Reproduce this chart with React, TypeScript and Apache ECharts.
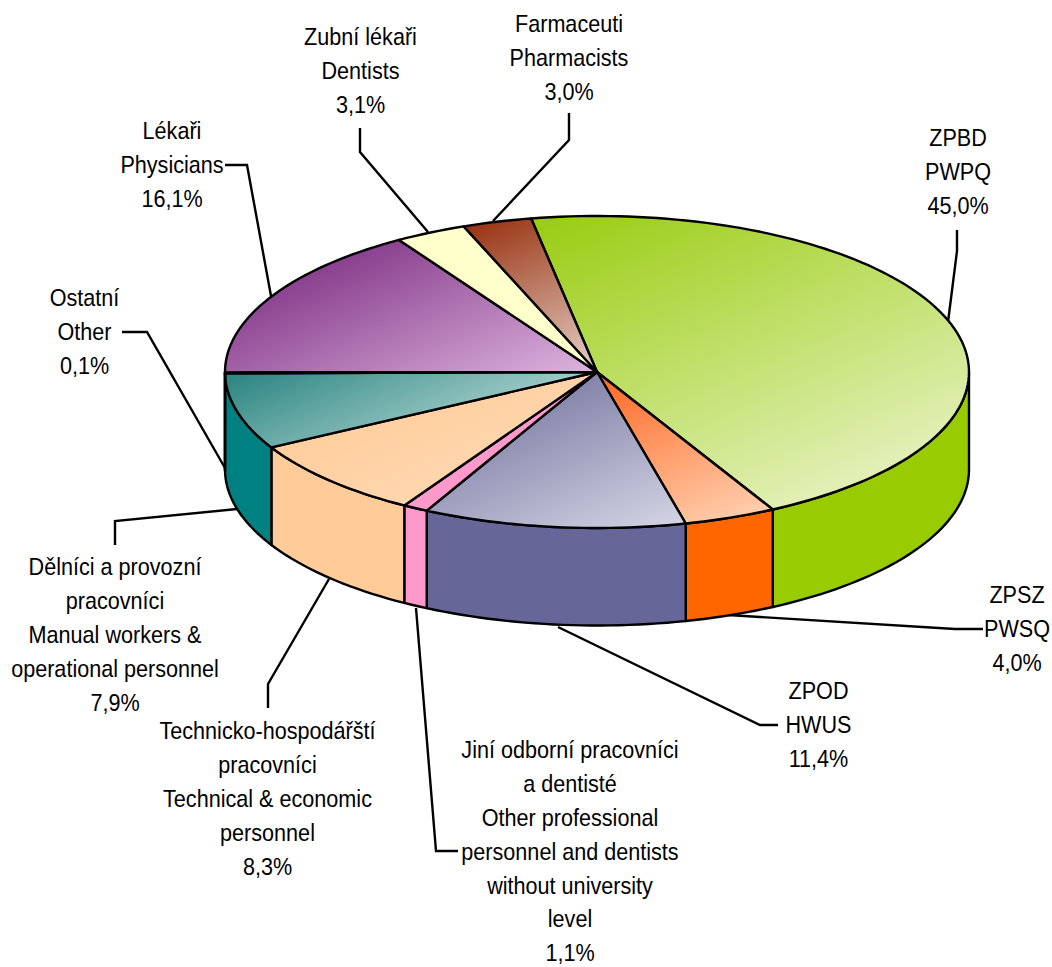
import React, { useEffect, useRef } from "react";
import * as echarts from "echarts";

const names: string[][] = [
  ["ZPBD", "PWPQ"],
  ["ZPSZ", "PWSQ"],
  ["ZPOD", "HWUS"],
  ["Jiní odborní pracovníci", "a dentisté", "Other professional", "personnel and dentists", "without university", "level"],
  ["Technicko-hospodářští", "pracovníci", "Technical & economic", "personnel"],
  ["Dělníci a provozní", "pracovníci", "Manual workers &", "operational personnel"],
  ["Ostatní", "Other"],
  ["Lékaři", "Physicians"],
  ["Zubní lékaři", "Dentists"],
  ["Farmaceuti", "Pharmacists"],
];
const values: number[] = [45.0, 4.0, 11.4, 1.1, 8.3, 7.9, 0.1, 16.1, 3.1, 3.0];

const sideColors = ["#99CC00", "#FF6600", "#666699", "#FF99CC", "#FFCC99", "#008080", "#FFFFFF", "#993399", "#FFFFCC", "#993300"];
const topDark = ["#99CC11", "#FF6622", "#8484AB", "#FF99CC", "#FFCE9D", "#2A8380", "#FFFFFF", "#8A408F", "#FFFFCC", "#993311"];
const topLight = ["#E2F0B8", "#FFD0B0", "#D4D4E4", "#FF99CC", "#FFD6AE", "#A0CCC8", "#FFFFFF", "#DDB4DE", "#FFFFCC", "#E6D2CA"];

// label anchor: centre x, centre y of first line
const labelAnchors: number[][] = [
  [958, 138], [1017, 595], [818.5, 691], [570, 750], [267.5, 731],
  [115, 567], [84.5, 298], [172, 131], [360.5, 37], [569, 24],
];
const leaders: number[][][] = [
  [[957, 230], [957, 251], [948, 322]],
  [[983, 629], [955, 629], [728, 615]],
  [[778, 725], [760, 725], [558, 627]],
  [[458, 851], [436, 851], [416, 608]],
  [[268, 708], [268, 684], [329, 579]],
  [[115, 545], [115, 521], [237, 509]],
  [[122, 332], [147, 332], [225, 468]],
  [[225, 165], [247, 165], [271, 296]],
  [[360, 128], [360, 152], [428, 232]],
  [[569, 113], [569, 140], [493, 221]],
];

const CX = 597, CY = 372, RX = 372, RY = 156, DEPTH = 97.5, START = -10.2;
const LINE_H = 33.8;
const STROKE = 2.4;
const total = values.reduce((a, b) => a + b, 0);

const pt = (deg: number, dy = 0): number[] => {
  const r = (deg * Math.PI) / 180;
  return [CX + RX * Math.sin(r), CY - RY * Math.cos(r) + dy];
};
const arc = (a0: number, a1: number, dy = 0): number[][] => {
  const n = Math.max(2, Math.ceil(Math.abs(a1 - a0) / 1.5));
  const out: number[][] = [];
  for (let i = 0; i <= n; i++) out.push(pt(a0 + ((a1 - a0) * i) / n, dy));
  return out;
};
const gradient = (points: number[][], c0: string, c1: string) => {
  const dx = 0.4, dy = 0.917;
  const proj = points.map((p) => p[0] * dx + p[1] * dy);
  const lo = Math.min(...proj), hi = Math.max(...proj);
  const xs = points.map((p) => p[0]), ys = points.map((p) => p[1]);
  const mx = (Math.min(...xs) + Math.max(...xs)) / 2, my = (Math.min(...ys) + Math.max(...ys)) / 2;
  const m = mx * dx + my * dy;
  const x0 = mx + (lo - m) * dx, y0 = my + (lo - m) * dy;
  const x1 = mx + (hi - m) * dx, y1 = my + (hi - m) * dy;
  return new echarts.graphic.LinearGradient(x0, y0, x1, y1, [
    { offset: 0, color: c0 },
    { offset: 1, color: c1 },
  ], true);
};

const renderSlice = (params: any) => {
  const i = params.dataIndex;
  const before = values.slice(0, i).reduce((a, b) => a + b, 0);
  const a0 = START + (before / total) * 360;
  const a1 = a0 + (values[i] / total) * 360;
  const children: any[] = [];
  const s0 = Math.max(a0, 90), s1 = Math.min(a1, 270);
  if (s1 > s0) {
    const pts = [...arc(s0, s1), ...arc(s1, s0, DEPTH)];
    children.push({
      type: "polygon",
      shape: { points: pts },
      style: { fill: sideColors[i], stroke: "#000", lineWidth: STROKE, lineJoin: "round" },
    });
  }
  const top = [[CX, CY], ...arc(a0, a1)];
  children.push({
    type: "polygon",
    shape: { points: top },
    style: { fill: gradient(top, topDark[i], topLight[i]), stroke: "#000", lineWidth: STROKE, lineJoin: "round" },
  });
  return { type: "group", children };
};

export default function App() {
  const ref = useRef<HTMLDivElement>(null);
  useEffect(() => {
    const chart = echarts.init(ref.current!, null, { renderer: "svg" });
    const graphics: any[] = [];
    leaders.forEach((pts) =>
      graphics.push({
        type: "polyline",
        z: 0,
        shape: { points: pts },
        style: { fill: "none", stroke: "#000", lineWidth: STROKE },
      })
    );
    names.forEach((lines, i) => {
      const text = [...lines, values[i].toFixed(1).replace(".", ",") + "%"].join("\n");
      graphics.push({
        type: "text",
        x: labelAnchors[i][0],
        y: labelAnchors[i][1] - LINE_H / 2,
        scaleX: 0.9,
        style: {
          text,
          fill: "#000",
          font: '24px "Liberation Sans", Arial, sans-serif',
          lineHeight: LINE_H,
          align: "center",
          verticalAlign: "top",
        },
      });
    });
    chart.setOption({
      animation: false,
      backgroundColor: "#fff",
      graphic: graphics,
      series: [
        {
          type: "custom",
          coordinateSystem: "none",
          silent: true,
          data: values.map((v) => [v]),
          renderItem: renderSlice,
        },
      ],
    });
    return () => chart.dispose();
  }, []);
  return <div ref={ref} style={{ position: "fixed", left: 0, top: 0, width: 1052, height: 967 }} />;
}
